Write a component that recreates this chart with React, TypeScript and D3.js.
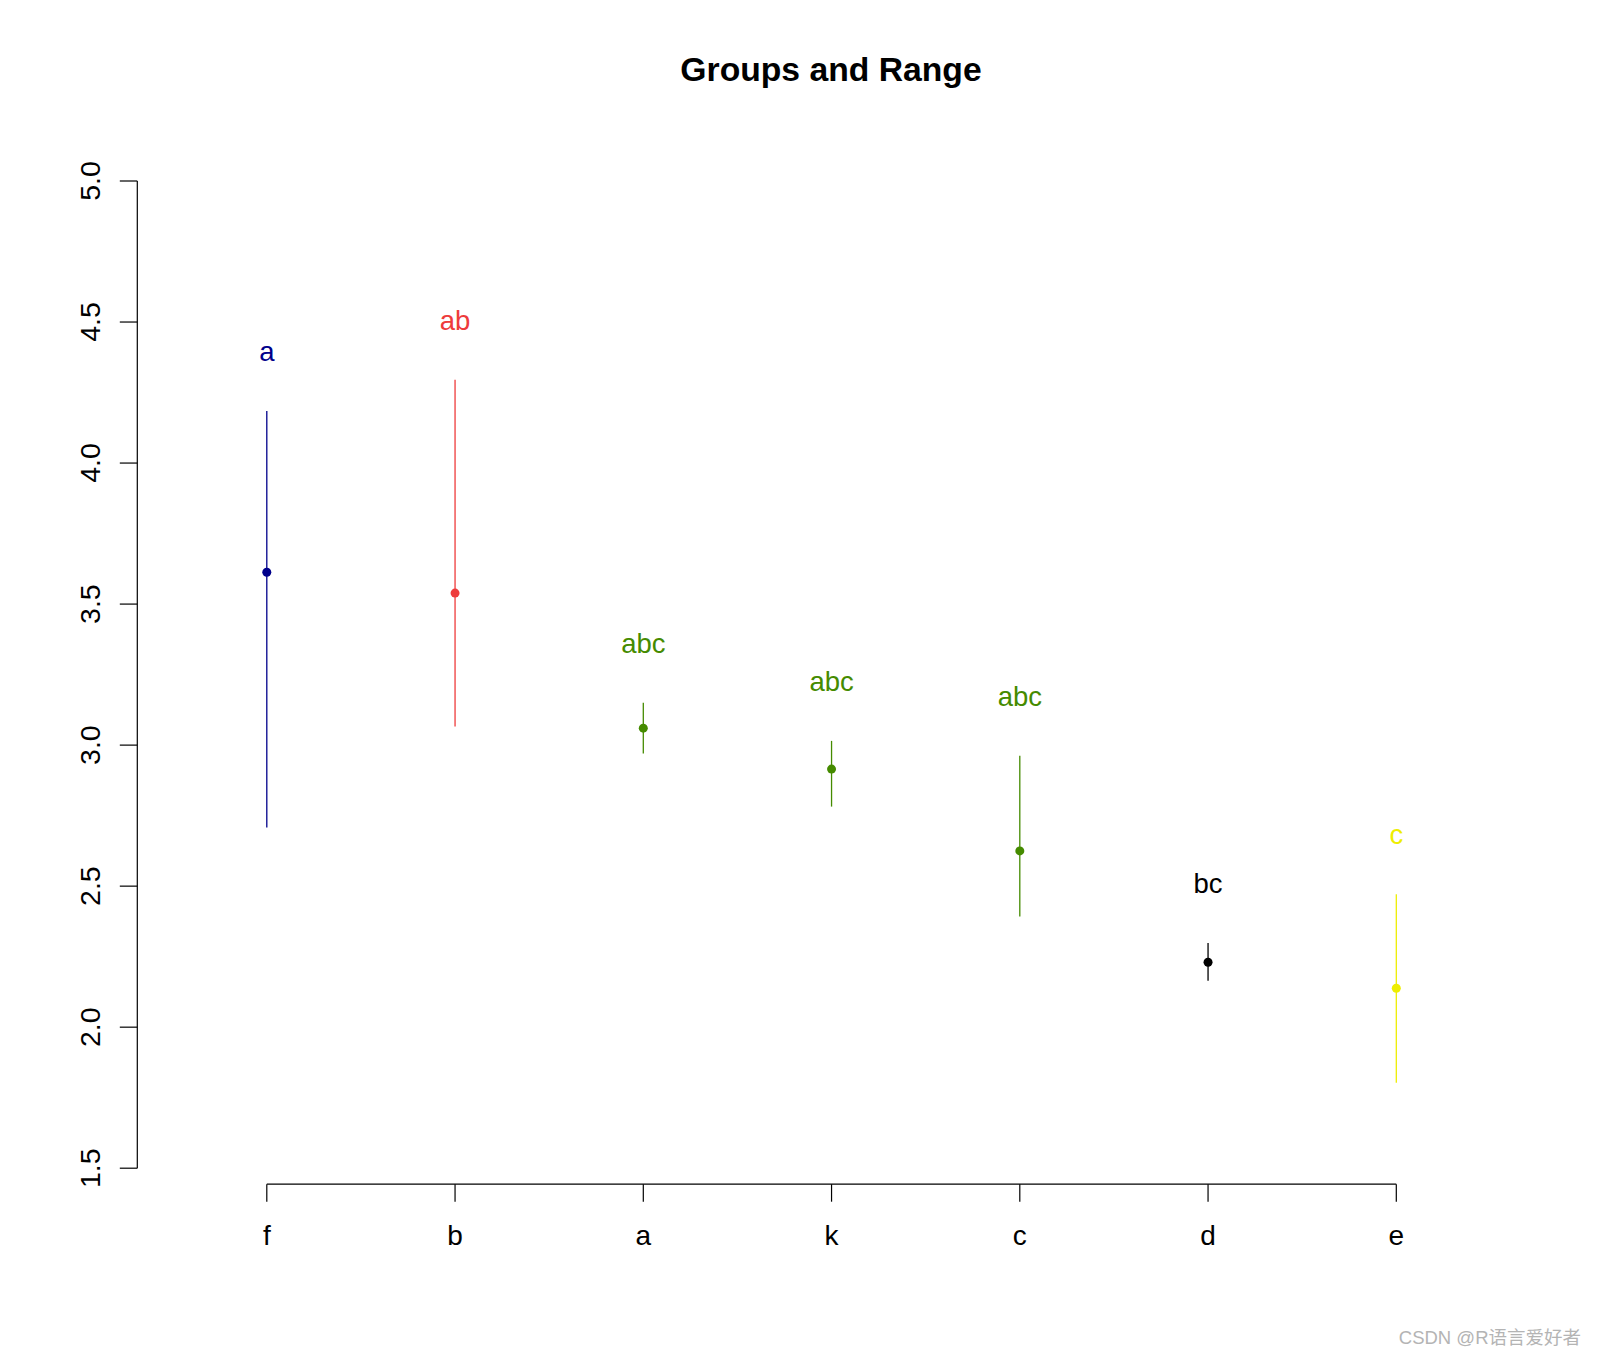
import React from "react";
import * as d3 from "d3";

const categories = ["f", "b", "a", "k", "c", "d", "e"];
const means = [3.613, 3.539, 3.06, 2.915, 2.625, 2.23, 2.138];
const upper = [4.185, 4.295, 3.15, 3.015, 2.962, 2.298, 2.471];
const lower = [2.708, 3.066, 2.97, 2.782, 2.392, 2.165, 1.803];
const groupLabels = ["a", "ab", "abc", "abc", "abc", "bc", "c"];
const colors = ["#00008B", "#EE3B3B", "#458B00", "#458B00", "#458B00", "#000000", "#EEEE00"];
const yTicks = [1.5, 2.0, 2.5, 3.0, 3.5, 4.0, 4.5, 5.0];

const W = 1597;
const H = 1356;
const FONT = "'Liberation Sans', Arial, Helvetica, sans-serif";

export default function App() {
  const y = d3.scaleLinear().domain([1.5, 5.0]).range([1168.2, 181.0]);
  const x = d3.scalePoint<string>().domain(categories).range([266.8, 1396.3]);
  const yAxisX = 137.3;
  const xAxisY = 1184.2;
  const tickLen = 17.5;

  return (
    <svg
      width={W}
      height={H}
      viewBox={`0 0 ${W} ${H}`}
      style={{ position: "absolute", left: 0, top: 0, background: "#fff" }}
      fontFamily={FONT}
    >
      <rect x={0} y={0} width={W} height={H} fill="#fff" />
      <text x={831} y={80.5} textAnchor="middle" fontSize={33.7} fontWeight="bold" fill="#000">
        Groups and Range
      </text>

      {/* Y axis */}
      <line x1={yAxisX} x2={yAxisX} y1={y(1.5)} y2={y(5.0)} stroke="#000" strokeWidth={1.2} />
      {yTicks.map((t) => (
        <g key={t}>
          <line x1={yAxisX - tickLen} x2={yAxisX} y1={y(t)} y2={y(t)} stroke="#000" strokeWidth={1.2} />
          <text
            transform={`translate(99.5,${y(t)}) rotate(-90)`}
            textAnchor="middle"
            fontSize={28.5}
            fill="#000"
          >
            {t.toFixed(1)}
          </text>
        </g>
      ))}

      {/* X axis */}
      <line
        x1={x(categories[0])}
        x2={x(categories[categories.length - 1])}
        y1={xAxisY}
        y2={xAxisY}
        stroke="#000"
        strokeWidth={1.2}
      />
      {categories.map((c) => (
        <g key={c}>
          <line x1={x(c)} x2={x(c)} y1={xAxisY} y2={xAxisY + tickLen} stroke="#000" strokeWidth={1.2} />
          <text x={x(c)} y={1245} textAnchor="middle" fontSize={28} fill="#000">
            {c}
          </text>
        </g>
      ))}

      {/* Ranges, means, labels */}
      {categories.map((c, i) => (
        <g key={"g" + c}>
          <line
            x1={x(c)}
            x2={x(c)}
            y1={y(upper[i])}
            y2={y(lower[i])}
            stroke={colors[i]}
            strokeWidth={1.3}
          />
          <circle cx={x(c)} cy={y(means[i])} r={4.5} fill={colors[i]} />
          <text
            x={x(c)}
            y={y(upper[i]) - 50}
            textAnchor="middle"
            fontSize={27.5}
            fill={colors[i]}
          >
            {groupLabels[i]}
          </text>
        </g>
      ))}

      <text x={1581} y={1344} textAnchor="end" fontSize={18.5} fill="#B4B4B4" fontFamily={"'Liberation Sans', 'Noto Sans CJK SC', sans-serif"}>
        CSDN @R语言爱好者
      </text>
    </svg>
  );
}
